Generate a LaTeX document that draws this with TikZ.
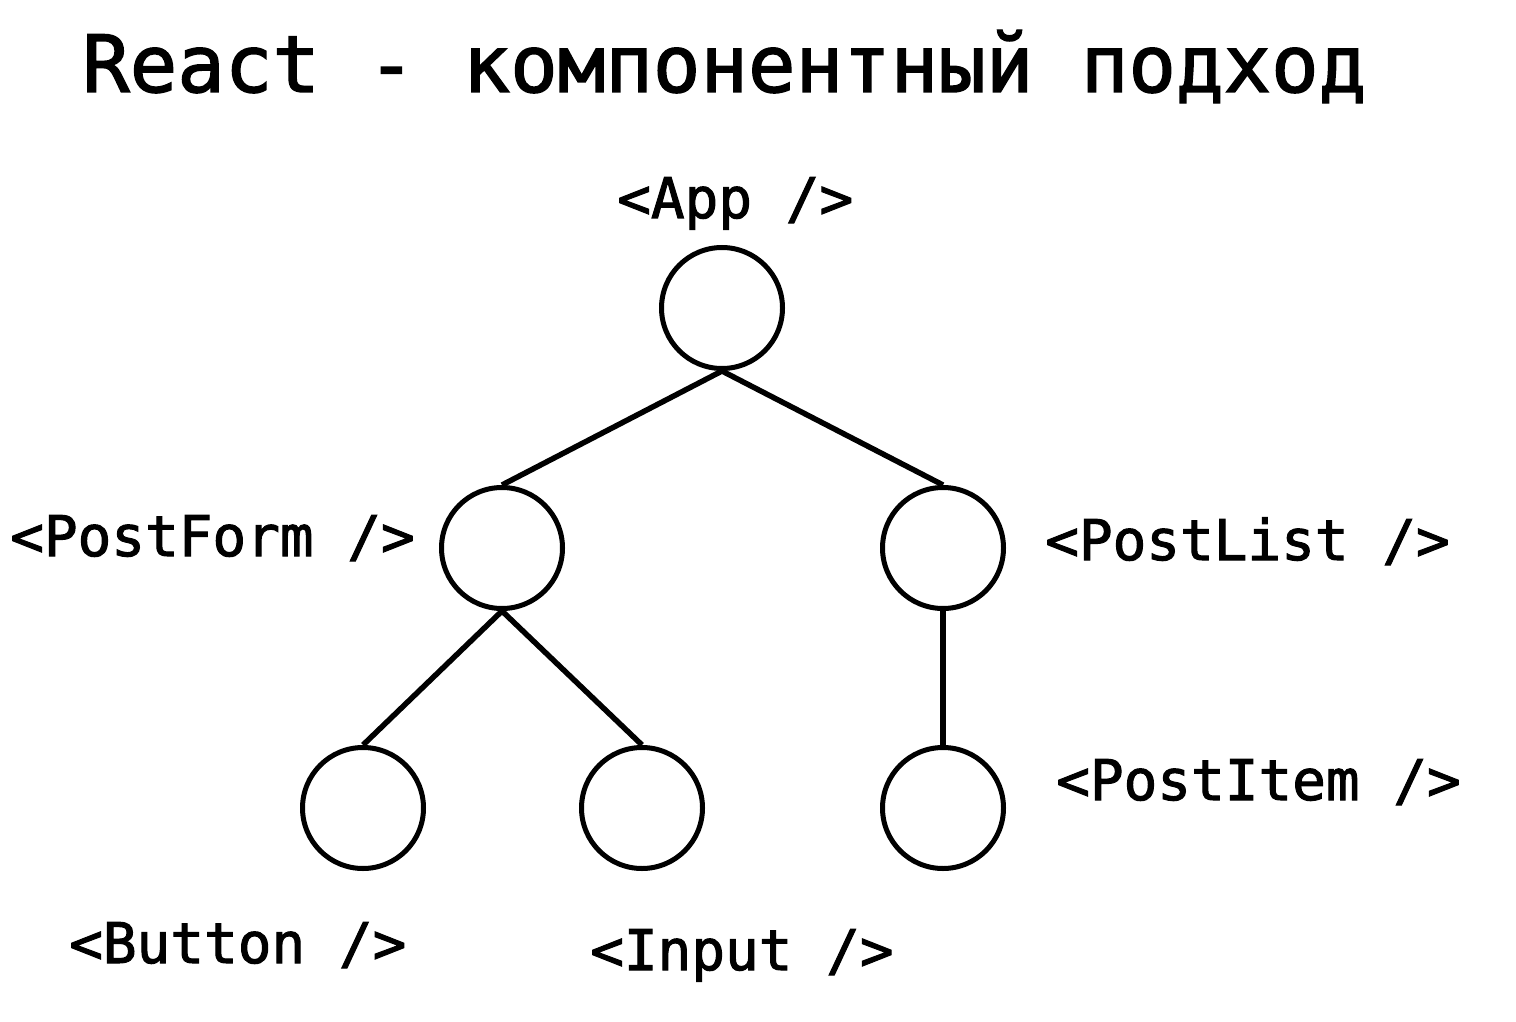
\documentclass[tikz,border=0pt]{standalone}
\usepackage{fontspec}
\setmonofont[FakeBold=1.8,BoldFont=DejaVu Sans Mono]{DejaVu Sans Mono}
\begin{document}
\begin{tikzpicture}[x=1pt,y=-1pt,
  comp/.style={circle,draw,line width=5pt,minimum size=121pt,inner sep=0pt},
  lbl/.style={anchor=base west,inner sep=0pt,font=\ttfamily\bfseries\fontsize{56}{60}\selectfont},
  edge/.style={line width=5.5pt}]
\useasboundingbox (0,0) rectangle (1516,1022);
\node[anchor=base west,inner sep=0pt,font=\ttfamily\bfseries\fontsize{79}{84}\selectfont] (title) at (82,92) {React - компонентный подход};
\node[comp] (app) at (722,308) {};
\node[comp] (form) at (502,548) {};
\node[comp] (list) at (943,548) {};
\node[comp] (btn) at (363,808) {};
\node[comp] (inp) at (642,808) {};
\node[comp] (item) at (943,808) {};
\node[lbl] (lapp) at (617,218) {<App />};
\node[lbl] (lform) at (10,556) {<PostForm />};
\node[lbl] (llist) at (1045,560) {<PostList />};
\node[lbl] (litem) at (1056,800) {<PostItem />};
\node[lbl] (lbtn) at (69,963) {<Button />};
\node[lbl] (linp) at (590,970) {<Input />};
\draw[edge] (app.south) -- (form.north);
\draw[edge] (app.south) -- (list.north);
\draw[edge] (form.south) -- (btn.north);
\draw[edge] (form.south) -- (inp.north);
\draw[edge] (list.south) -- (item.north);
\end{tikzpicture}
\end{document}
